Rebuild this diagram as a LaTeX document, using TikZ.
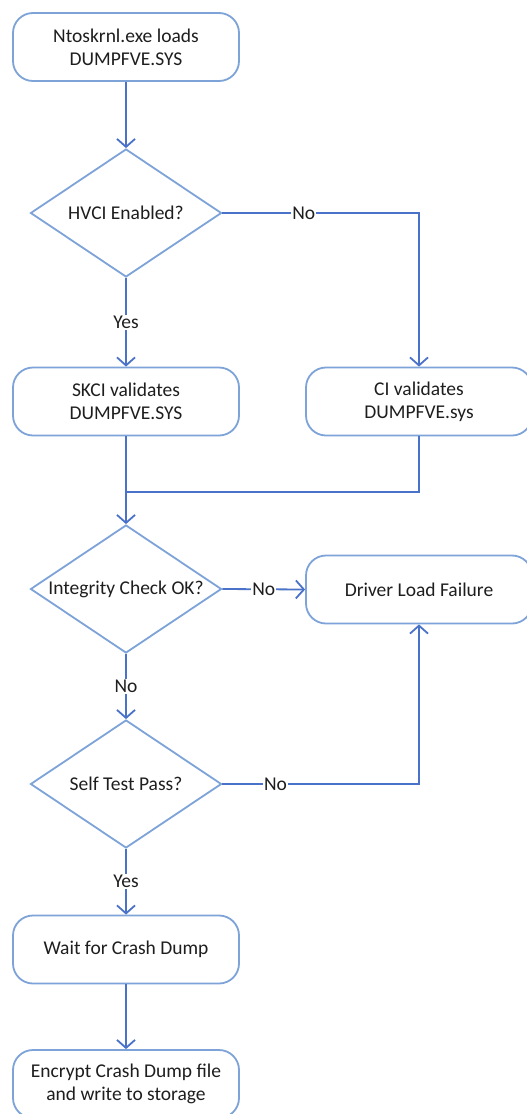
\documentclass[tikz,border=0pt]{standalone}
\usepackage{fontspec}
\setmainfont{Carlito}
\usetikzlibrary{arrows.meta,shapes.geometric}
\definecolor{boxblue}{HTML}{7DA3D8}
\definecolor{lineblue}{HTML}{4A72C8}
\definecolor{txt}{HTML}{1E1E1E}
\newcommand{\zw}[1]{\makebox[0pt][c]{#1}}
\begin{document}
\begin{tikzpicture}[x=1pt,y=-1pt,
  proc/.style={draw=boxblue, line width=1.8pt, rounded corners=20pt, minimum width=226pt, minimum height=68pt, inner sep=0pt, align=center, font=\fontsize{19.5}{23}\selectfont, text=txt},
  dec/.style={draw=boxblue, line width=1.8pt, diamond, inner sep=0pt, minimum width=191pt, minimum height=128pt, font=\fontsize{19.5}{23}\selectfont, text=txt},
  conn/.style={draw=lineblue, line width=1.8pt, -{Straight Barb[length=8pt,width=18pt,line width=1.8pt]}},
  plain/.style={draw=lineblue, line width=1.8pt},
  lbl/.style={fill=white, inner sep=1pt, font=\fontsize{19.5}{22}\selectfont, text=txt}]
\useasboundingbox (0,0) rectangle (527,1114);
\clip (0,0) rectangle (527,1114);
\fill[white] (0,0) rectangle (527,1114);
\node[proc] (n1) at (126,47) {Ntoskrnl.exe loads\\DUMPFVE.SYS};
\node[dec] (d1) at (126,213) {\zw{HVCI Enabled?}};
\node[proc] (skci) at (126,401.5) {SKCI validates\\DUMPFVE.SYS};
\node[proc] (ci) at (419,401.5) {CI validates\\DUMPFVE.sys};
\coordinate (j) at (126,492);
\node[dec] (d2) at (126,589) {\zw{Integrity Check OK?}};
\node[proc] (fail) at (419,589.5) {Driver Load Failure};
\node[dec] (d3) at (126,784) {\zw{Self Test Pass?}};
\node[proc] (wait) at (126,949.5) {Wait for Crash Dump};
\node[proc] (enc) at (126,1084) {Encrypt Crash Dump file\\and write to storage};

\draw[conn] (n1.south) -- (d1.north);
\draw[conn] (d1.east) -- node[lbl,pos=0.414]{No} (d1.east -| ci.north) -- (ci.north);
\draw[conn] (d1.south) -- node[lbl]{Yes} (skci.north);
\draw[conn] (skci.south) -- (d2.north);
\draw[plain] (ci.south) |- (j);
\draw[conn] (d2.east) -- node[lbl]{No} (fail.west);
\draw[conn] (d2.south) -- node[lbl]{No} (d3.north);
\draw[conn] (d3.east) -- node[lbl,pos=0.27]{No} (d3.east -| fail.south) -- (fail.south);
\draw[conn] (d3.south) -- node[lbl]{Yes} (wait.north);
\draw[conn] (wait.south) -- (enc.north);
\end{tikzpicture}
\end{document}
